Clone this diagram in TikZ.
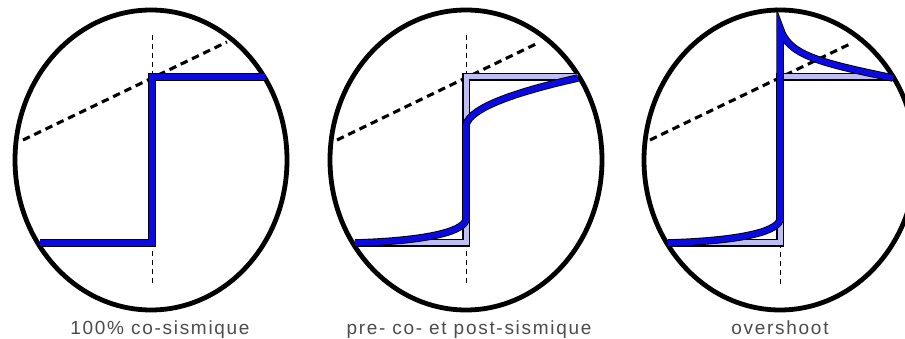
\documentclass[tikz,border=0pt]{standalone}
\usepackage{fontspec}
\setmainfont{Liberation Sans}[LetterSpace=9]
\definecolor{stepblue}{RGB}{10,10,225}
\definecolor{lav}{RGB}{190,190,240}
\begin{document}
\begin{tikzpicture}[x=1pt,y=-1pt,
  rim/.style={line width=4.8pt},
  axisdash/.style={line width=0.8pt,dash pattern=on 5pt off 4pt},
  slope/.style={line width=3.1pt,dash pattern=on 7.5pt off 5pt},
  outlinepath/.style={line width=7.5pt,black,line join=miter},
  bluepath/.style={line width=5.7pt,stepblue,line join=miter},
  lavpath/.style={line width=5pt,lav,line join=miter},
  caption/.style={anchor=base,text=black!70,font=\fontsize{19}{22}\selectfont,inner sep=0pt}]
\useasboundingbox (0,0) rectangle (905,339);
\clip (0,0) rectangle (905,339);
\fill[white] (0,0) rectangle (905,339);

% ---------- panel 1 ----------
\draw[rim] (151,160) ellipse [x radius=136pt,y radius=150pt];
\draw[axisdash] (152,35) -- (152,285);
\draw[slope] (23,140) -- (227,42);
\draw[outlinepath] (40,243) -- (152,243) -- (152,77) -- (265,77);
\draw[bluepath] (40,243) -- (152,243) -- (152,77) -- (265,77);
\node[caption] (c1) at (160,334) {100\% co-sismique};

% ---------- panel 2 ----------
\draw[rim] (466,160) ellipse [x radius=136pt,y radius=150pt];
\draw[axisdash] (466,35) -- (466,285);
\draw[slope] (337,140) -- (538,43);
\draw[outlinepath] (355,243) -- (466,243) -- (466,77) -- (578,77);
\draw[lavpath] (355,243) -- (466,243) -- (466,77) -- (578,77);
\draw[outlinepath] (355,243) .. controls (420,241) and (462,233) .. (466,220)
  -- (466,125) .. controls (470,107) and (520,91) .. (578,78);
\draw[bluepath] (355,243) .. controls (420,241) and (462,233) .. (466,220)
  -- (466,125) .. controls (470,107) and (520,91) .. (578,78);
\node[caption] (c2) at (469,334) {pre- co- et post-sismique};

% ---------- panel 3 ----------
\draw[rim] (780,160) ellipse [x radius=136pt,y radius=150pt];
\draw[axisdash] (780,243) -- (780,285);
\draw[slope] (650,140) -- (852,43);
\draw[outlinepath] (668,243) -- (780,243) -- (780,77) -- (893,77);
\draw[lavpath] (668,243) -- (780,243) -- (780,77) -- (893,77);
\draw[outlinepath] (668,243) .. controls (734,241) and (776,233) .. (780,220)
  -- (780,28) .. controls (788,54) and (815,62) .. (893,78);
\draw[bluepath] (668,243) .. controls (734,241) and (776,233) .. (780,220)
  -- (780,28) .. controls (788,54) and (815,62) .. (893,78);
\node[caption] (c3) at (780,334) {overshoot};
\end{tikzpicture}
\end{document}
